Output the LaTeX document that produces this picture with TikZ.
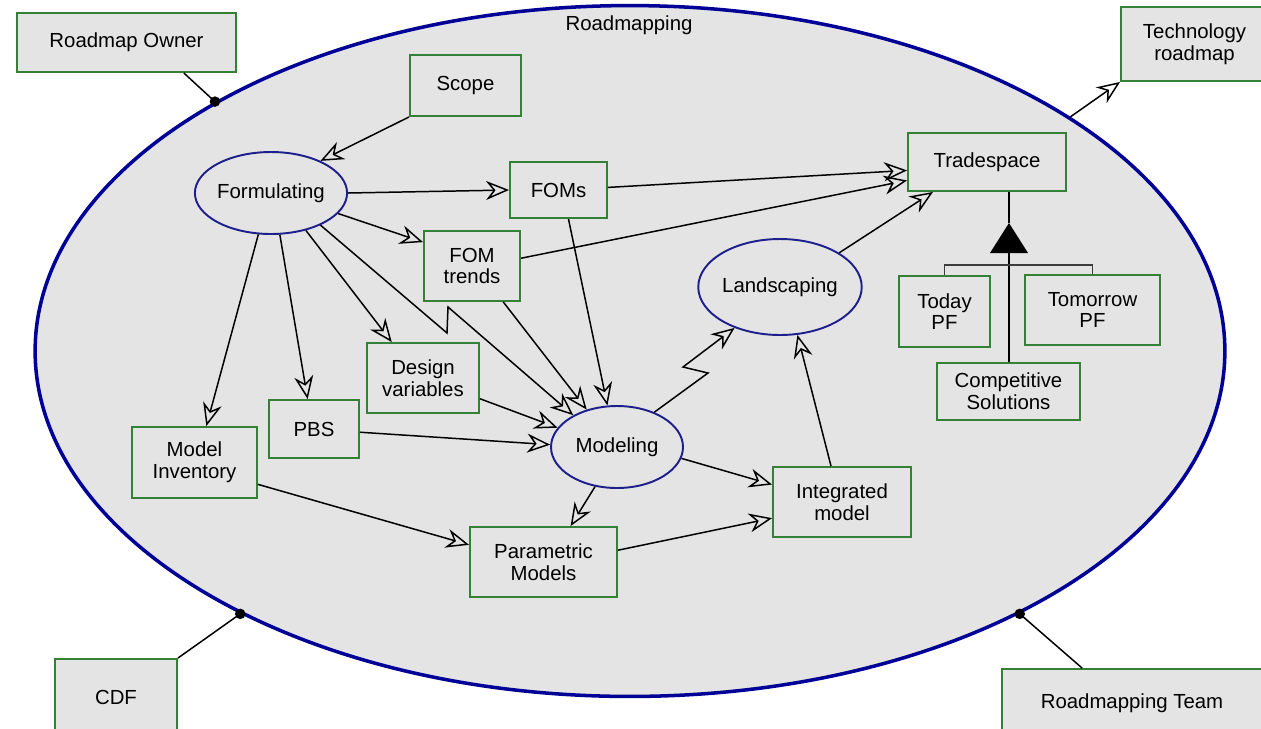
\documentclass[tikz,border=0pt]{standalone}
\usepackage{fontspec}
\setmainfont{Liberation Sans}
\usetikzlibrary{shapes.geometric,arrows.meta}

\definecolor{fillgray}{RGB}{228,228,228}
\definecolor{boxgreen}{RGB}{52,128,52}
\definecolor{ovalblue}{RGB}{30,30,140}
\definecolor{rimblue}{RGB}{0,0,150}
\definecolor{forkgray}{RGB}{60,60,60}
\newcommand\rmpfont{\fontsize{11.6}{12.4}\selectfont}

\tikzset{
  thing/.style={draw=boxgreen,line width=1.1pt,fill=fillgray,inner sep=1pt,align=center,font=\rmpfont},
  proc/.style={ellipse,draw=ovalblue,line width=1.1pt,fill=fillgray,inner sep=0pt,font=\rmpfont},
  link/.style={line width=0.85pt,-{Stealth[open,length=4.6mm,width=3.8mm,inset=1.5mm]}},
  tie/.style={line width=0.85pt},
}

\begin{document}
\begin{tikzpicture}[x=0.02cm,y=-0.02cm]
\useasboundingbox (0,0) rectangle (1261,728);

\node[ellipse,draw=rimblue,line width=2pt,fill=fillgray,minimum width=23.8cm,minimum height=13.82cm] (rm) at (630,351) {};
\node[font=\rmpfont] (rmtitle) at (629,25) {Roadmapping};

%---------------------------------------------------
\node[thing,minimum width=4.38cm,minimum height=1.18cm] (owner) at (126.5,42.5) {Roadmap Owner};
\node[thing,minimum width=2.94cm,minimum height=1.48cm] (techrm) at (1194.5,44) {Technology\\roadmap};
\node[thing,minimum width=2.44cm,minimum height=1.52cm] (cdf) at (116,697) {CDF};
\node[thing,minimum width=5.2cm,minimum height=1.36cm] (team) at (1132,703) {Roadmapping Team};

%---------------------------------------------------
\node[thing,minimum width=2.22cm,minimum height=1.22cm] (scope) at (465.5,85.5) {Scope};
\node[thing,minimum width=1.94cm,minimum height=1.12cm] (foms) at (558.5,190) {FOMs};
\node[thing,minimum width=1.92cm,minimum height=1.40cm] (fomtr) at (472,266) {FOM\\trends};
\node[thing,minimum width=2.24cm,minimum height=1.40cm] (design) at (423,378) {Design\\variables};
\node[thing,minimum width=1.80cm,minimum height=1.16cm] (pbs) at (314,429) {PBS};
\node[thing,minimum width=2.50cm,minimum height=1.42cm] (inv) at (194.5,462.5) {Model\\Inventory};
\node[thing,minimum width=2.94cm,minimum height=1.40cm] (param) at (543.5,562) {Parametric\\Models};
\node[thing,minimum width=2.76cm,minimum height=1.40cm] (integ) at (842,502) {Integrated\\model};
\node[thing,minimum width=3.16cm,minimum height=1.16cm] (trade) at (987,162) {Tradespace};
\node[thing,minimum width=1.82cm,minimum height=1.42cm] (today) at (944.5,311.5) {Today\\PF};
\node[thing,minimum width=2.70cm,minimum height=1.40cm] (tomorrow) at (1092.5,310) {Tomorrow\\PF};
\node[thing,minimum width=2.86cm,minimum height=1.14cm] (comp) at (1008.5,391.5) {Competitive\\Solutions};

%---------------------------------------------------
\node[proc,minimum width=2.92cm,minimum height=1.64cm] (form) at (271,193) {Formulating};
\node[proc,minimum width=2.64cm,minimum height=1.64cm] (model) at (617,447) {Modeling};
\node[proc,minimum width=3.16cm,minimum height=1.92cm] (land) at (780,287) {Landscaping};

%---------------------------------------------------
\draw[link] (scope.south west) -- (form.33);
\draw[link] (form.east) -- (foms.west);
\draw[link] (form.-17) -- (fomtr.154);
\draw[link] (form.-47) -- (design.131);
\draw[link] (form.-78) -- (pbs.102);
\draw[link] (form.253) -- (inv.72);
\coordinate (zf1) at (447,333);
\coordinate (zf2) at (448,307);
\draw[link] (form.-33) -- (zf1) -- (zf2) -- (model.144);

\draw[link] (fomtr.-49) -- (model.129);
\draw[link] (foms.-71) -- (model.103);
\draw[link] (design.-20) -- (model.162);
\draw[link] (pbs.-4) -- (model.178);
\draw[link] (foms.3) -- (trade.186);
\draw[link] (fomtr.9) -- (trade.193);
\draw[link] (land.30) -- (trade.209);

\coordinate (zm1) at (708,373);
\coordinate (zm2) at (683,367);
\draw[link] (model.43) -- (zm1) -- (zm2) -- (land.222);
\draw[link] (integ.107) -- (land.-70);
\draw[link] (model.-10) -- (integ.166);
\draw[link] (param.9) -- (integ.193);
\draw[link] (inv.-19) -- (param.167);
\draw[link] (model.241) -- (param.53);

%---------------------------------------------------
\coordinate (aggtop) at (1009,223);
\coordinate (aggbase) at (1009,253);
\coordinate (fork) at (1009,265);
\draw[tie] (trade.south -| aggtop) -- (aggtop);
\fill[black] (aggtop) -- ++(19,30) -- ++(-38,0) -- cycle;
\draw[tie] (comp.north -| aggbase) -- (aggbase);
\draw[forkgray,line width=1.1pt] (today.north) |- (fork) -| (tomorrow.north);

%---------------------------------------------------
\draw[link] (rm.28) -- (techrm.south west);
\draw[tie] (owner.-28) -- (rm.149);
\fill[black] (rm.149) circle (3pt);
\draw[tie] (cdf.north east) -- (rm.214);
\fill[black] (rm.214) circle (3pt);
\draw[tie] (team.145) -- (rm.-34.5);
\fill[black] (rm.-34.5) circle (3pt);
\end{tikzpicture}
\end{document}
